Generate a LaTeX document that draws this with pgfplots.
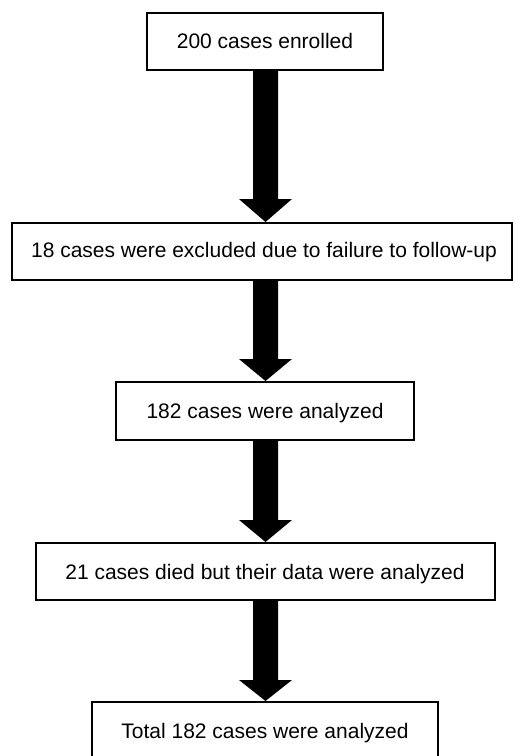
\documentclass[border=0pt]{standalone}
\usepackage{pgfplots}
\pgfplotsset{compat=1.18}
\usepackage{fontspec}
\setmainfont{Liberation Sans}
\begin{document}
\begin{tikzpicture}
\begin{axis}[
  width=515pt, height=756pt, scale only axis,
  xmin=0, xmax=515, ymin=0, ymax=756, y dir=reverse,
  hide axis, clip=true,
]
% background (keeps the full page size)
\addplot[fill=white, draw=none] coordinates {(0,0) (515,0) (515,756) (0,756)};
% boxes
\addplot[black, line width=2pt, line join=miter] coordinates {(147,13) (383,13) (383,70) (147,70) (147,13) (383,13)};
\addplot[black, line width=2pt, line join=miter] coordinates {(12,223) (512,223) (512,280) (12,280) (12,223) (512,223)};
\addplot[black, line width=2pt, line join=miter] coordinates {(116,382) (414,382) (414,440) (116,440) (116,382) (414,382)};
\addplot[black, line width=2pt, line join=miter] coordinates {(36,543) (495,543) (495,600) (36,600) (36,543) (495,543)};
\addplot[black, line width=2pt, line join=miter] coordinates {(92,702) (438,702) (438,770) (92,770) (92,702) (438,702)};
% arrows
\addplot[fill=black, draw=none] coordinates {(253,70) (278,70) (278,199) (292,199) (265.5,222) (239,199) (253,199)};
\addplot[fill=black, draw=none] coordinates {(253,280) (278,280) (278,359) (292,359) (265.5,381) (239,359) (253,359)};
\addplot[fill=black, draw=none] coordinates {(253,440) (278,440) (278,520) (292,520) (265.5,542) (239,520) (253,520)};
\addplot[fill=black, draw=none] coordinates {(253,600) (278,600) (278,680) (292,680) (265.5,701) (239,680) (253,680)};
% texts
\tikzset{lbl/.style={font=\fontsize{21}{24}\selectfont, inner sep=0pt, text=black, anchor=base}}
\node[lbl] at (axis cs:265,48.5) {200 cases enrolled};
\node[lbl] at (axis cs:264,257.5) {18 cases were excluded due to failure to follow-up};
\node[lbl] at (axis cs:265,418) {182 cases were analyzed};
\node[lbl] at (axis cs:265,579) {21 cases died but their data were analyzed};
\node[lbl] at (axis cs:265,738) {Total 182 cases were analyzed};
\end{axis}
\end{tikzpicture}
\end{document}
